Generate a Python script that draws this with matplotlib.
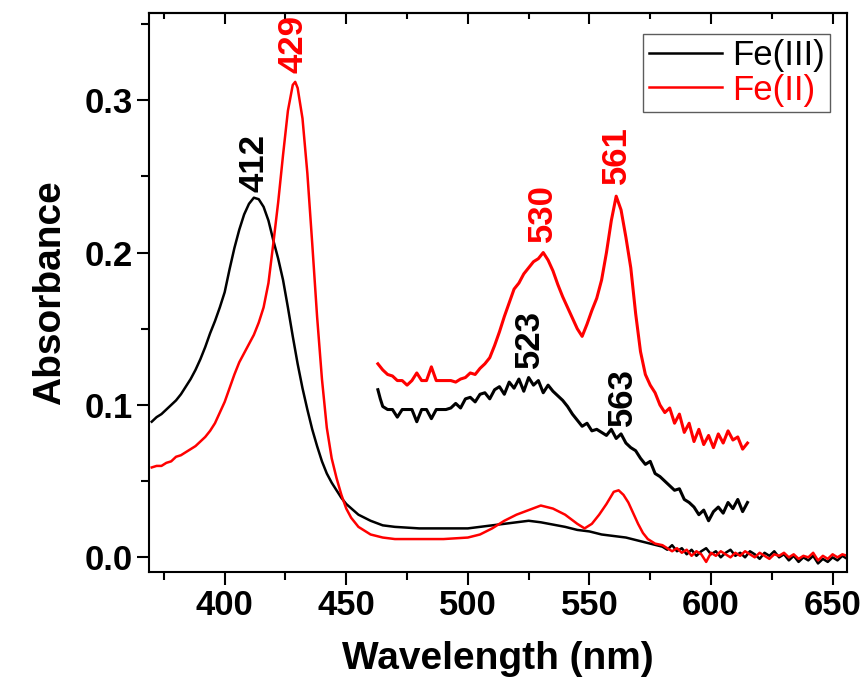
import matplotlib
matplotlib.use("Agg")
import matplotlib.pyplot as plt
from matplotlib.ticker import MultipleLocator

# Fe(III) / Fe(II) UV-vis spectra, wavelength in nm
fe3_wl = [370, 372, 374, 376, 378, 380, 382, 384, 386, 388, 390, 392, 394, 396, 398,
          400, 402, 404, 406, 408, 410, 412, 414, 416, 418, 420, 422, 424, 426, 428,
          430, 432, 434, 436, 438, 440, 442, 444, 446, 448, 450, 455, 460, 465, 470,
          480, 490, 500, 510, 520, 525, 530, 540, 545, 550, 555, 560, 565, 570, 575,
          580, 582, 584, 586, 588, 590, 592, 594, 596, 598, 600, 602, 604, 606, 608,
          610, 612, 614, 616, 618, 620, 622, 624, 626, 628, 630, 632, 634, 636, 638,
          640, 642, 644, 646, 648, 650, 652, 654, 656]
fe3_abs = [0.089, 0.092, 0.094, 0.097, 0.100, 0.103, 0.107, 0.112, 0.117, 0.123,
           0.130, 0.138, 0.147, 0.155, 0.164, 0.174, 0.189, 0.203, 0.215, 0.225,
           0.232, 0.236, 0.235, 0.230, 0.221, 0.208, 0.196, 0.182, 0.164, 0.145,
           0.127, 0.111, 0.097, 0.084, 0.073, 0.063, 0.055, 0.049, 0.044, 0.039,
           0.035, 0.028, 0.024, 0.021, 0.020, 0.019, 0.019, 0.019, 0.021, 0.023,
           0.024, 0.023, 0.020, 0.018, 0.017, 0.015, 0.014, 0.013, 0.011, 0.009,
           0.007, 0.005, 0.008, 0.004, 0.006, 0.002, 0.005, 0.001, 0.004, 0.006,
           0.002, 0.004, 0.000, 0.003, 0.005, 0.001, 0.003, 0.000, 0.004, 0.002,
           -0.001, 0.003, 0.001, 0.004, 0.000, 0.002, -0.002, 0.001, -0.003, 0.000,
           -0.002, 0.001, -0.004, -0.001, -0.003, 0.000, -0.002, 0.001, -0.001]

fe2_wl = [370, 372, 374, 376, 378, 380, 382, 384, 386, 388, 390, 392, 394, 396, 398,
          400, 402, 404, 406, 408, 410, 412, 414, 416, 418, 420, 422, 424, 426, 428,
          429, 430, 432, 434, 436, 438, 440, 442, 444, 446, 448, 450, 452, 455, 460,
          465, 470, 480, 490, 500, 505, 510, 515, 520, 525, 530, 535, 540, 545, 548,
          551, 554, 557, 560, 562, 564, 566, 568, 570, 572, 574, 577,
          580, 582, 584, 586, 588, 590, 592, 594, 596, 598, 600, 602, 604, 606, 608,
          610, 612, 614, 616, 618, 620, 622, 624, 626, 628, 630, 632, 634, 636, 638,
          640, 642, 644, 646, 648, 650, 652, 654, 656]
fe2_abs = [0.059, 0.060, 0.060, 0.062, 0.063, 0.066, 0.067, 0.069, 0.071, 0.073,
           0.076, 0.079, 0.083, 0.088, 0.095, 0.102, 0.111, 0.120, 0.128, 0.134,
           0.140, 0.146, 0.154, 0.164, 0.180, 0.206, 0.233, 0.264, 0.293, 0.310,
           0.312, 0.308, 0.288, 0.252, 0.206, 0.158, 0.117, 0.085, 0.065, 0.052,
           0.041, 0.032, 0.026, 0.020, 0.015, 0.013, 0.012, 0.012, 0.012, 0.013,
           0.015, 0.019, 0.024, 0.028, 0.031, 0.034, 0.032, 0.028, 0.022, 0.019,
           0.022, 0.028, 0.035, 0.043, 0.044, 0.041, 0.036, 0.029, 0.022, 0.016,
           0.012, 0.009,
           0.008, 0.006, 0.004, 0.006, 0.003, 0.005, 0.001, 0.004, 0.002, -0.003,
           0.003, 0.001, 0.004, 0.002, 0.000, 0.003, 0.001, 0.004, 0.002, 0.000,
           0.003, 0.001, -0.001, 0.002, 0.001, 0.003, 0.000, 0.002, -0.001, 0.001,
           0.000, 0.003, -0.002, 0.001, -0.001, 0.002, 0.000, 0.002, 0.001]

# visible region, magnified and offset
fe3_zoom_wl = [463, 464, 465, 467, 469, 471, 473, 475, 477, 479, 481, 483, 485, 487,
               489, 491, 493, 495, 497, 499, 501, 503, 505, 507, 509, 511, 513, 515,
               517, 519, 521, 523, 525, 527, 529, 531, 533, 535, 537, 539, 541, 543,
               545, 547, 549, 551, 553, 555, 557, 559, 561, 563, 565, 567, 569, 571,
               573, 575, 577, 579, 581, 583, 585, 587, 589, 591, 593, 595, 597, 599,
               601, 603, 605, 607, 609, 611, 613, 615]
fe3_zoom_abs = [0.110, 0.104, 0.099, 0.097, 0.097, 0.092, 0.097, 0.097, 0.097, 0.089,
                0.097, 0.097, 0.091, 0.097, 0.097, 0.097, 0.098, 0.101, 0.098, 0.104,
                0.105, 0.102, 0.107, 0.108, 0.104, 0.110, 0.112, 0.107, 0.115, 0.111,
                0.117, 0.109, 0.118, 0.113, 0.116, 0.108, 0.113, 0.109, 0.106, 0.103,
                0.099, 0.094, 0.090, 0.086, 0.088, 0.083, 0.084, 0.082, 0.080, 0.084,
                0.078, 0.081, 0.075, 0.072, 0.070, 0.065, 0.061, 0.063, 0.055, 0.053,
                0.050, 0.047, 0.044, 0.045, 0.038, 0.036, 0.033, 0.028, 0.031, 0.024,
                0.030, 0.033, 0.029, 0.036, 0.032, 0.038, 0.030, 0.036]

fe2_zoom_wl = [463, 465, 467, 469, 471, 473, 475, 477, 479, 481, 483, 485, 487, 489,
               491, 493, 495, 497, 499, 501, 503, 505, 507, 509, 511, 513, 515, 517,
               519, 521, 523, 525, 527, 529, 531, 533, 535, 537, 539, 541, 543, 545,
               547, 549, 551, 553, 555, 557, 559, 561, 563, 565, 567, 569, 571, 573,
               575, 577, 579, 581, 583, 585, 587, 589, 591, 593, 595, 597, 599, 601,
               603, 605, 607, 609, 611, 613, 615]
fe2_zoom_abs = [0.127, 0.123, 0.120, 0.119, 0.116, 0.116, 0.113, 0.116, 0.121, 0.116,
                0.116, 0.125, 0.116, 0.116, 0.116, 0.116, 0.115, 0.117, 0.118, 0.121,
                0.120, 0.124, 0.127, 0.131, 0.139, 0.148, 0.158, 0.167, 0.176, 0.180,
                0.186, 0.190, 0.194, 0.196, 0.200, 0.195, 0.188, 0.179, 0.171, 0.164,
                0.157, 0.150, 0.145, 0.153, 0.162, 0.170, 0.182, 0.200, 0.221, 0.237,
                0.228, 0.210, 0.190, 0.160, 0.135, 0.120, 0.113, 0.108, 0.100, 0.095,
                0.098, 0.088, 0.094, 0.082, 0.088, 0.076, 0.084, 0.074, 0.080, 0.072,
                0.081, 0.075, 0.083, 0.077, 0.079, 0.071, 0.075]

# peak labels: (text, x, y, colour)
peak_labels = [("412", 412, 0.240, "black"),
               ("429", 428, 0.318, "red"),
               ("530", 530.5, 0.207, "red"),
               ("561", 561, 0.245, "red"),
               ("523", 525.5, 0.124, "black"),
               ("563", 563.5, 0.086, "black")]

plt.rcParams["font.family"] = ["Liberation Sans", "DejaVu Sans"]

fig = plt.figure(figsize=(8.67, 6.89), dpi=100)
ax = fig.add_axes([0.1722, 0.1694, 0.8044, 0.8122])

lw = 1.8
ax.plot(fe3_wl, fe3_abs, color="black", lw=lw, label="Fe(III)")
ax.plot(fe2_wl, fe2_abs, color="red", lw=lw, label="Fe(II)")
ax.plot(fe3_zoom_wl, fe3_zoom_abs, color="black", lw=2.2)
ax.plot(fe2_zoom_wl, fe2_zoom_abs, color="red", lw=2.2)

for txt, x, y, c in peak_labels:
    ax.text(x, y, txt, rotation=90, ha="center", va="bottom", color=c,
            fontsize=25, fontweight="bold", clip_on=False)

ax.set_xlim(369, 655.8)
ax.set_ylim(-0.0098, 0.3574)

ax.xaxis.set_major_locator(MultipleLocator(50))
ax.xaxis.set_minor_locator(MultipleLocator(25))
ax.yaxis.set_major_locator(MultipleLocator(0.1))
ax.yaxis.set_minor_locator(MultipleLocator(0.05))
ax.yaxis.set_major_formatter(plt.FuncFormatter(lambda v, p: f"{v:.1f}"))

ax.tick_params(which="both", direction="out", width=1.5, top=False, right=False)
ax.tick_params(which="major", length=9, labelsize=25, pad=3)
ax.tick_params(which="minor", length=5.5)
for lab in ax.get_xticklabels() + ax.get_yticklabels():
    lab.set_fontweight("bold")

# top axis with inward ticks
top = ax.secondary_xaxis("top")
top.xaxis.set_major_locator(MultipleLocator(50))
top.xaxis.set_minor_locator(MultipleLocator(25))
top.tick_params(which="both", direction="in", width=1.5, labeltop=False)
top.tick_params(which="major", length=8)
top.tick_params(which="minor", length=4.5)
top.spines["top"].set_linewidth(1.5)

for s in ax.spines.values():
    s.set_linewidth(1.5)

ax.set_xlabel("Wavelength (nm)", fontsize=28, fontweight="bold", labelpad=14)
ax.set_ylabel("Absorbance", fontsize=28, fontweight="bold", labelpad=12)

leg = ax.legend(loc="upper right", bbox_to_anchor=(0.976, 0.9625), fontsize=25,
                frameon=True, fancybox=False, handlelength=2.1, handletextpad=0.3,
                borderpad=0.15, labelspacing=0.05, borderaxespad=0)
leg.get_frame().set_edgecolor("#333333")
leg.get_frame().set_linewidth(1.0)
for t, c in zip(leg.get_texts(), ["black", "red"]):
    t.set_color(c)

fig.savefig("out.png", dpi=100)
